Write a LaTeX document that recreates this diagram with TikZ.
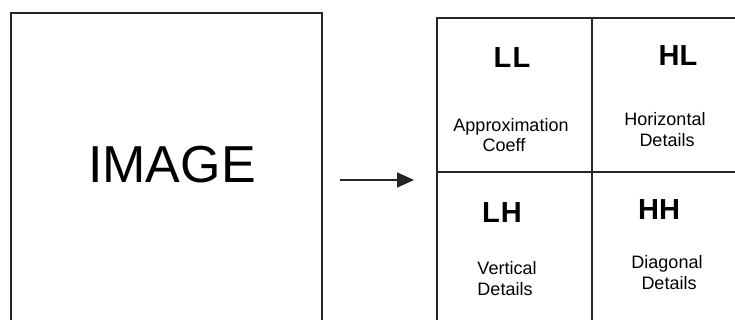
\documentclass[tikz,border=0pt]{standalone}
\usepackage{fontspec}
\setmainfont{Liberation Sans}
\usetikzlibrary{arrows.meta}
\tikzset{
  frame/.style={draw=black!85, line width=1.3pt},
  big/.style={font=\fontsize{52}{56}\selectfont, anchor=base, inner sep=0pt},
  band/.style={font=\fontsize{29}{32}\selectfont\bfseries, anchor=base, inner sep=0pt},
  small/.style={font=\fontsize{18}{20}\selectfont, anchor=base, inner sep=0pt},
  arr/.style={draw=black!85, line width=1.6pt, -{Triangle[length=17pt,width=15pt]}}
}
\begin{document}
\begin{tikzpicture}[x=1pt,y=1pt]
\useasboundingbox (0,0) rectangle (735,320);
% left image box (open at the bottom edge)
\draw[frame] (11,0) -- (11,307) -- (322,307) -- (322,0);
\node[big] (img) at (172,137) {IMAGE};
% arrow
\coordinate (a1) at (340,140);
\coordinate (a2) at (414,140);
\draw[arr] (a1) -- (a2);
% grid
\draw[frame] (437,0) -- (437,302) -- (735,302);
\draw[frame] (437,148) -- (735,148);
\draw[frame] (592,0) -- (592,302);
% band labels
\node[band] (ll) at (512,252) {L\kern1.5pt L};
\node[band] (hl) at (678,254) {HL};
\node[band] (lh) at (502,97) {L\kern1pt H};
\node[band] (hh) at (659,100) {HH};
% descriptions
\node[small] (ll1) at (511,188) {Approximation};
\node[small] (ll2) at (504,168) {Coeff};
\node[small] (hl1) at (665,194) {Horizontal};
\node[small] (hl2) at (667,173) {Details};
\node[small] (lh1) at (507,45) {Vertical};
\node[small] (lh2) at (505,24) {Details};
\node[small] (hh1) at (667,51) {Diagonal};
\node[small] (hh2) at (669,30) {Details};
\end{tikzpicture}
\end{document}
